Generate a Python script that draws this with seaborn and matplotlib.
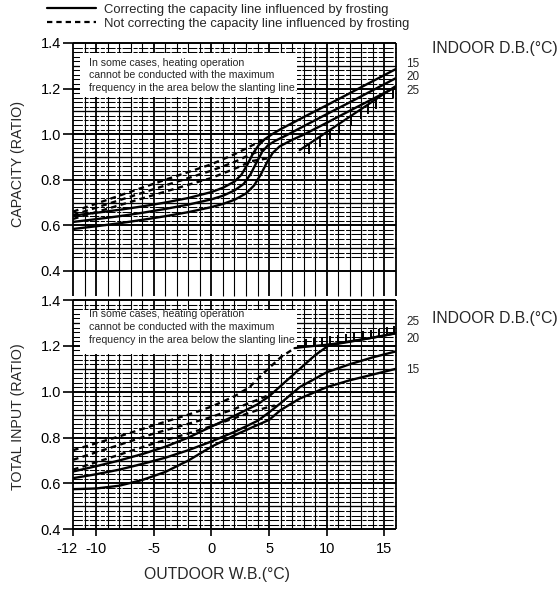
import numpy as np
import pandas as pd
import matplotlib
matplotlib.use("Agg")
import matplotlib.pyplot as plt
import matplotlib.transforms as mtransforms
import seaborn as sns
from matplotlib.lines import Line2D
from matplotlib.patches import Rectangle
from matplotlib.path import Path

sns.set_theme(style="white")
plt.rcParams["font.family"] = ["Liberation Sans", "DejaVu Sans"]

# ---------------- data ----------------
# Capacity ratio vs outdoor wet bulb, per indoor dry bulb (15 / 20 / 25 degC)
cap15_wb = [-12, -10, -8, -6, -4, -2, 0, 1, 2, 2.6, 3.1, 3.6, 4.1, 4.6, 5.2, 6, 8, 10, 12, 14, 16]
cap15_val = [0.643, 0.655, 0.668, 0.683, 0.700, 0.720, 0.746, 0.765, 0.792, 0.822, 0.865, 0.915, 0.952, 0.977, 0.998, 1.022, 1.075, 1.127, 1.180, 1.233, 1.286]
cap20_wb = [-12, -10, -8, -6, -4, -2, 0, 1, 2, 2.8, 3.4, 3.9, 4.4, 4.9, 5.5, 6.5, 8, 10, 12, 14, 16]
cap20_val = [0.615, 0.627, 0.640, 0.655, 0.672, 0.691, 0.714, 0.730, 0.753, 0.782, 0.825, 0.875, 0.922, 0.951, 0.970, 0.995, 1.035, 1.088, 1.140, 1.193, 1.246]
cap25_wb = [-12, -10, -8, -6, -4, -2, 0, 1, 2, 3, 3.7, 4.3, 4.8, 5.3, 5.9, 7, 8, 10, 12, 14, 16]
cap25_val = [0.584, 0.596, 0.609, 0.624, 0.640, 0.658, 0.680, 0.694, 0.712, 0.740, 0.775, 0.825, 0.875, 0.917, 0.946, 0.975, 0.998, 1.050, 1.103, 1.155, 1.207]

# Capacity without frost correction
capd15_wb = [-12, -8, -4, 0, 2, 3, 4.4]
capd15_val = [0.660, 0.730, 0.800, 0.868, 0.912, 0.937, 0.974]
capd20_wb = [-12, -8, -4, 0, 2, 3, 4.6]
capd20_val = [0.645, 0.710, 0.775, 0.840, 0.878, 0.902, 0.936]
capd25_wb = [-12, -8, -4, 0, 2, 3.5, 5.0]
capd25_val = [0.628, 0.688, 0.748, 0.808, 0.848, 0.882, 0.895]

# Maximum-frequency limit (capacity)
cap_limit_wb = [7.65, 16]
cap_limit_val = [0.930, 1.212]
cap_limit_ticks = [8.5, 9.4, 10.25, 11.1, 12.1, 13.0, 13.6, 14.3, 15.0, 15.7]

# Total input ratio vs outdoor wet bulb
inp25_wb = [-12, -10, -8, -6, -4, -2, 0, 2, 4, 5, 6, 7, 8, 9, 10.2, 12, 14, 16]
inp25_val = [0.652, 0.675, 0.700, 0.728, 0.760, 0.800, 0.848, 0.895, 0.945, 0.980, 1.025, 1.070, 1.115, 1.160, 1.203, 1.218, 1.236, 1.255]
inp20_wb = [-12, -10, -8, -6, -4, -2, 0, 2, 4, 5, 6, 7.65, 10, 12, 14, 16]
inp20_val = [0.623, 0.640, 0.660, 0.685, 0.712, 0.745, 0.783, 0.825, 0.873, 0.910, 0.950, 1.020, 1.085, 1.120, 1.150, 1.176]
inp15_wb = [-12, -10, -8, -6, -4, -2, 0, 2, 4, 5, 6, 7.65, 10, 12, 14, 16]
inp15_val = [0.575, 0.578, 0.590, 0.615, 0.650, 0.700, 0.760, 0.810, 0.855, 0.877, 0.920, 0.970, 1.020, 1.050, 1.075, 1.100]

# Total input without frost correction
inpd25_wb = [-12, -8, -4.9, -2, 0, 2, 3.3, 4.5, 6, 7.2]
inpd25_val = [0.745, 0.805, 0.855, 0.900, 0.935, 0.980, 1.020, 1.080, 1.150, 1.190]
inpd20_wb = [-12, -8, -4.9, -2, 0, 2, 4, 5.2]
inpd20_val = [0.703, 0.768, 0.819, 0.860, 0.890, 0.925, 0.965, 0.990]
inpd15_wb = [-12, -8, -4.9, -2, 0, 2, 4, 5.5]
inpd15_val = [0.660, 0.725, 0.776, 0.818, 0.850, 0.885, 0.920, 0.940]

# Maximum-frequency limit (input)
inp_limit_wb = [7.2, 8, 9, 10, 11, 12, 13, 14, 15, 16]
inp_limit_val = [1.190, 1.195, 1.200, 1.205, 1.212, 1.220, 1.228, 1.236, 1.245, 1.255]
inp_limit_ticks = [8.2, 8.9, 9.6, 10.3, 11.0, 11.7, 12.4, 13.1, 13.8, 14.5, 15.2, 15.8]

y_ticks = [0.4, 0.6, 0.8, 1.0, 1.2, 1.4]
y_tick_labels = ["0.4", "0.6", "0.8", "1.0", "1.2", "1.4"]
x_ticks = [-12, -10, -5, 0, 5, 10, 15]
x_tick_labels = ["-12", "-10", "-5", "0", "5", "10", "15"]

legend_labels = ["Correcting the capacity line influenced by frosting",
                 "Not correcting the capacity line influenced by frosting"]
note_lines = ["In some cases, heating operation",
              "cannot be conducted with the maximum",
              "frequency in the area below the slanting line."]


def long_frame(curves):
    rows = []
    for name, kind, xs, ys in curves:
        for x, y in zip(xs, ys):
            rows.append({"curve": name, "kind": kind, "wb": x, "ratio": y})
    return pd.DataFrame(rows)


cap_df = long_frame([
    ("s15", "corrected", cap15_wb, cap15_val),
    ("s20", "corrected", cap20_wb, cap20_val),
    ("s25", "corrected", cap25_wb, cap25_val),
    ("d15", "uncorrected", capd15_wb, capd15_val),
    ("d20", "uncorrected", capd20_wb, capd20_val),
    ("d25", "uncorrected", capd25_wb, capd25_val),
])
inp_df = long_frame([
    ("s15", "corrected", inp15_wb, inp15_val),
    ("s20", "corrected", inp20_wb, inp20_val),
    ("s25", "corrected", inp25_wb, inp25_val),
    ("d15", "uncorrected", inpd15_wb, inpd15_val),
    ("d20", "uncorrected", inpd20_wb, inpd20_val),
    ("d25", "uncorrected", inpd25_wb, inpd25_val),
])

DASH = (2.4, 1.8)

# ---------------- figure ----------------
W, H = 560, 589
fig = plt.figure(figsize=(W / 100, H / 100), dpi=100)
fig.patch.set_facecolor("white")

x0, x1 = 73, 396
ax_cap = fig.add_axes([x0 / W, 1 - 296 / H, (x1 - x0) / W, (296 - 43) / H])
ax_inp = fig.add_axes([x0 / W, 1 - 529.3 / H, (x1 - x0) / W, (529.3 - 300) / H])


def graph_paper(ax, y_floor, ruled_from):
    # vertical rulings every 1 degC, heavier every 5 degC and at the edges
    for x in range(-12, 17):
        lw = 1.3 if (x % 5 == 0 or x in (-12, 16)) else 0.8
        ax.vlines(x, y_floor, 1.4, colors="black", lw=lw, zorder=1, clip_on=False)
    # horizontal rulings every 0.02, heavier every 0.1 / 0.2
    for k in range(int(round(ruled_from * 100)), 141, 2):
        y = k / 100
        if k % 20 == 0:
            ax.hlines(y, -12, 16, colors="black", lw=1.4, zorder=1, clip_on=False)
        elif k % 10 == 0:
            ax.hlines(y, -12, 16, colors="black", lw=0.95, zorder=1, clip_on=False)
        else:
            ax.hlines(y, -12, 16, colors="black", lw=0.75, zorder=1, clip_on=False,
                      linestyles=[(0, (9, 1.5, 4, 1.2))])


graph_paper(ax_cap, 0.29, 0.46)
ax_cap.hlines(0.4, -12, 16, colors="black", lw=1.4, zorder=1, clip_on=False)
graph_paper(ax_inp, 0.4, 0.4)

for ax in (ax_cap, ax_inp):
    ax.add_patch(Rectangle((-11.4, 1.163), 18.8, 0.195, facecolor="white",
                           edgecolor="none", zorder=3))

for ax, df in ((ax_cap, cap_df), (ax_inp, inp_df)):
    sns.lineplot(data=df, x="wb", y="ratio", units="curve", estimator=None,
                 style="kind", style_order=["corrected", "uncorrected"],
                 dashes={"corrected": "", "uncorrected": DASH},
                 color="black", lw=1.7, sort=False, legend=False, ax=ax, zorder=5)

# limit lines with hatching
tick_down = Path([(0, 0), (0, -1)])
tick_up = Path([(0, 0), (0, 1)])
ax_cap.plot(cap_limit_wb, cap_limit_val, color="black", lw=1.6, zorder=5)
ax_cap.plot(cap_limit_ticks, np.interp(cap_limit_ticks, cap_limit_wb, cap_limit_val),
            ls="none", marker=tick_down, ms=14, mew=1.4, color="black", zorder=5)
ax_inp.plot(inp_limit_wb, inp_limit_val, color="black", lw=1.6, zorder=5)
ax_inp.plot(inp_limit_ticks, np.interp(inp_limit_ticks, inp_limit_wb, inp_limit_val),
            ls="none", marker=tick_up, ms=12, mew=1.4, color="black", zorder=5)

# axes styling
for ax, ylo in ((ax_cap, 0.29), (ax_inp, 0.4)):
    ax.set_xlim(-12, 16)
    ax.set_ylim(ylo, 1.4)
    for s in ax.spines.values():
        s.set_visible(False)
    ax.set_yticks(y_ticks)
    ax.set_yticklabels(y_tick_labels)
    ax.tick_params(axis="y", direction="out", length=7, width=1.2, pad=1.5,
                   labelsize=10.5, colors="black", left=True)
    ax.set_xlabel("")
    ax.set_ylabel("")
    ax.set_facecolor("white")

ax_cap.set_xticks([])
ax_inp.set_xticks(x_ticks)
ax_inp.set_xticklabels(x_tick_labels)
ax_inp.tick_params(axis="x", direction="out", length=5, width=1.2, pad=4,
                   labelsize=10.5, colors="black", bottom=True)
# the "-12" label sits a little left of its tick
first = ax_inp.get_xticklabels()[0]
first.set_transform(first.get_transform()
                    + mtransforms.ScaledTranslation(-6 / 100, 0, fig.dpi_scale_trans))

# note boxes
for ax, ys in ((ax_cap, [1.311, 1.258, 1.201]), (ax_inp, [1.340, 1.282, 1.227])):
    for txt, y in zip(note_lines, ys):
        ax.text(-10.6, y, txt, ha="left", va="center", fontsize=7.6, zorder=6)

# curve labels (indoor D.B.)
for ax, items in ((ax_cap, [("15", 1.308), ("20", 1.251), ("25", 1.189)]),
                  (ax_inp, [("25", 1.305), ("20", 1.231), ("15", 1.096)])):
    for txt, y in items:
        ax.text(16.9, y, txt, ha="left", va="center", fontsize=8.5, clip_on=False)

fig.text(432 / W, 1 - 48 / H, "INDOOR D.B.(°C)", ha="left", va="center", fontsize=11.3)
fig.text(432 / W, 1 - 319 / H, "INDOOR D.B.(°C)", ha="left", va="center", fontsize=11.3)

fig.text(18 / W, 1 - 164 / H, "CAPACITY (RATIO)", rotation=90, ha="center",
         va="center", fontsize=10.3)
fig.text(18 / W, 1 - 417 / H, "TOTAL INPUT (RATIO)", rotation=90, ha="center",
         va="center", fontsize=10.3)
fig.text(217 / W, 1 - 575 / H, "OUTDOOR W.B.(°C)", ha="center", va="center",
         fontsize=11.3)

handles = [Line2D([], [], color="black", lw=1.6),
           Line2D([], [], color="black", lw=1.6, dashes=DASH)]
fig.legend(handles, legend_labels, loc="upper left",
           bbox_to_anchor=(46 / W, 1 - 3 / H),
           frameon=False, fontsize=9.4, handlelength=3.8, handletextpad=0.6,
           labelspacing=0.15, borderpad=0.05, borderaxespad=0)

fig.savefig("out.png", dpi=100, facecolor="white")
